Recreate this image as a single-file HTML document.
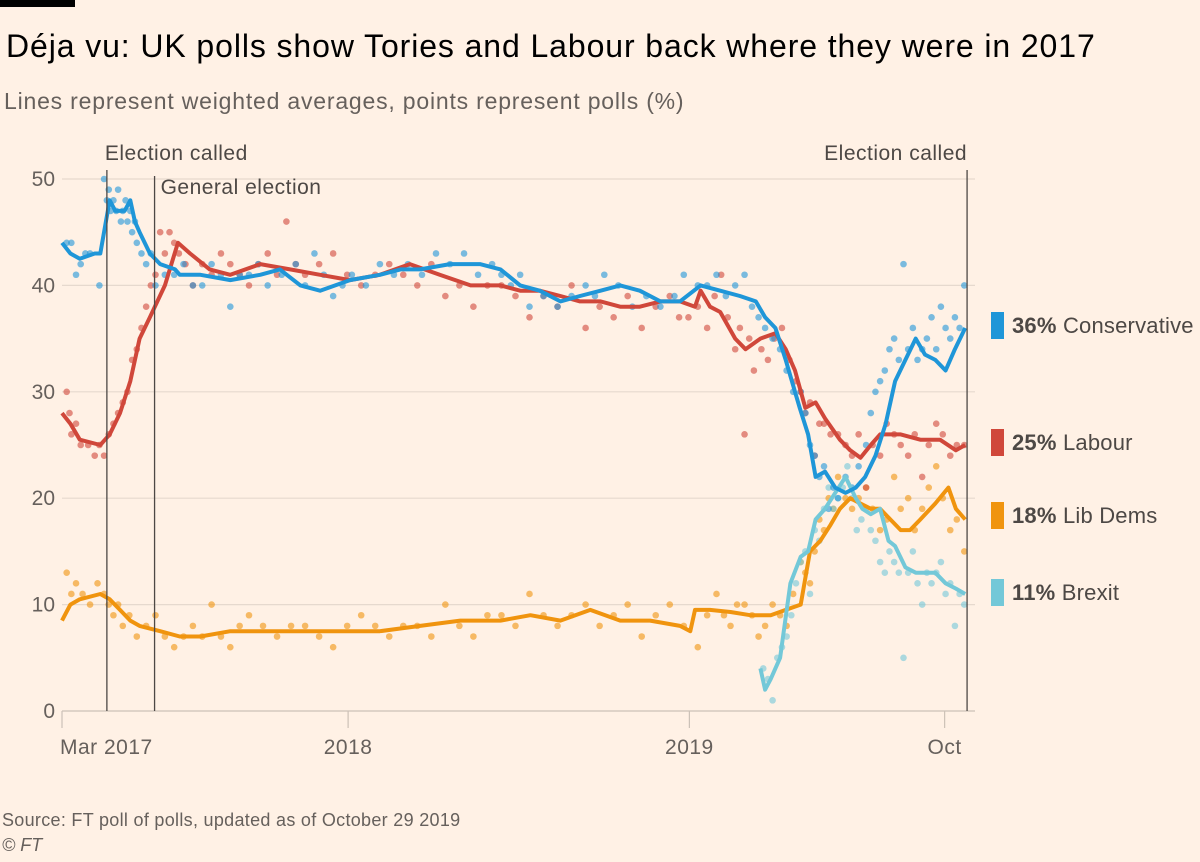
<!DOCTYPE html>
<html><head><meta charset="utf-8"><style>
body{margin:0;background:#fff1e5;}
svg text{font-family:"Liberation Sans",sans-serif;}
</style></head><body>
<svg width="1200" height="857" xmlns="http://www.w3.org/2000/svg">
<rect width="1200" height="857" fill="#fff1e5"/>
<rect x="0" y="0" width="75" height="7" fill="#000"/>
<text x="6" y="57" font-size="32" letter-spacing="0.9" fill="#000">Déja vu: UK polls show Tories and Labour back where they were in 2017</text>
<text x="4" y="109" font-size="23" letter-spacing="0.8" fill="#66605c">Lines represent weighted averages, points represent polls (%)</text>
<g id="grid"></g>
<g id="polls"></g>
<g id="lines"></g>
<g id="annot"></g>
<g id="legend"></g>
<text x="2" y="826" font-size="18" letter-spacing="0.3" fill="#66605c">Source: FT poll of polls, updated as of October 29 2019</text>
<text x="2" y="851" font-size="18" fill="#66605c" font-style="italic">© FT</text>
</svg>
<script>
const yTicks=[0,10,20,30,40,50];
const xTickDays=[0,306,671,944];
const xTickLabels=["Mar 2017","2018","2019","Oct"];
const eventDays=[48,99,968];
const eventLabels=["Election called","General election","Election called"];
const conLine=[[0,44],[9,43],[19,42.5],[35,43],[41,43],[47,46],[51,48],[57,47],[67,47],[73,48],[78,46],[83,45],[94,43],[105,42],[121,41.5],[126,41],[148,41],[180,40.5],[212,41],[233,41.5],[255,40],[276,39.5],[308,40.5],[340,41],[362,41.5],[383,41.5],[415,42],[447,42],[469,41.5],[490,40],[511,39.5],[533,38.5],[554,39],[576,39.5],[597,40],[618,39.5],[640,38.5],[661,38.5],[683,40],[704,39.5],[725,39],[742,38.5],[752,37],[763,36],[774,33],[784,30],[789,28.5],[798,26],[806,22],[816,22.5],[827,21],[838,20.5],[849,21],[859,22],[870,24],[881,27],[891,31],[902,33],[913,35],[923,33.5],[934,33],[945,32],[955,34],[966,36]];
const labLine=[[0,28],[9,27],[19,25.5],[41,25],[46,25.5],[51,26],[62,28],[73,31],[83,35],[94,37],[110,40],[124,44],[137,43],[158,41.5],[180,41],[212,42],[244,41.5],[276,41],[308,40.5],[340,41],[372,42],[404,41],[437,40],[469,40],[490,39.5],[511,39.5],[533,39],[554,38.5],[576,38.5],[597,38],[618,38],[640,38.5],[661,38.5],[677,38],[683,39.5],[693,38],[704,37.5],[720,35],[731,34],[747,35],[763,35.5],[774,34],[784,32],[795,28.5],[806,29],[816,27.5],[832,25.5],[843,24.5],[854,23.8],[865,25],[875,26],[897,26],[918,25.5],[939,25.5],[956,24.5],[966,25]];
const ldLine=[[0,8.5],[9,10],[19,10.5],[41,11],[51,10.5],[62,9.5],[73,8.5],[83,8],[105,7.5],[126,7],[148,7],[180,7.5],[212,7.5],[244,7.5],[276,7.5],[308,7.5],[340,7.5],[383,8],[426,8.5],[469,8.5],[501,9],[533,8.5],[565,9.5],[597,8.5],[629,8.5],[661,8],[672,7.5],[677,9.5],[693,9.5],[715,9.3],[736,9],[758,9],[774,9.5],[790,10],[800,15],[811,16],[822,17.5],[832,19],[843,20],[854,19.5],[865,19],[875,19],[886,18],[897,17],[907,17],[918,18],[934,19.5],[948,21],[956,19],[966,18]];
const brxLine=[[747,4],[752,2],[758,3],[768,5],[779,12],[790,14.5],[798,15],[806,18],[816,19],[827,20.5],[838,22],[849,20],[856,19],[865,18.5],[875,19],[884,16],[891,15.5],[902,13.5],[913,13],[923,13],[934,13],[945,12],[956,11.5],[966,11]];
const conPolls=[[5,44],[10,44],[15,41],[20,42],[25,43],[30,43],[40,40],[45,50],[48,48],[50,49],[52,47],[55,48],[58,47],[60,49],[63,46],[65,47],[68,48],[70,46],[73,47],[75,45],[78,46],[80,44],[85,43],[90,42],[95,43],[100,40],[110,41],[120,41],[130,42],[140,40],[150,40],[160,42],[170,41],[180,38],[190,41],[200,41],[210,42],[220,40],[235,41],[250,42],[260,40],[270,43],[280,41],[290,39],[300,40],[310,41],[325,40],[340,42],[355,41],[370,42],[385,41],[400,43],[415,42],[430,43],[445,41],[460,42],[470,41],[480,40],[490,41],[500,38],[515,39],[530,38],[545,39],[560,40],[570,39],[580,41],[595,40],[610,38],[625,39],[640,38],[655,39],[665,41],[680,40],[690,40],[700,41],[710,39],[720,40],[730,41],[738,38],[745,37],[752,36],[760,35],[768,34],[775,32],[782,30],[790,30],[795,28],[800,25],[805,24],[810,22],[815,23],[820,19],[825,21],[830,20],[838,22],[845,21],[852,23],[860,25],[865,28],[870,30],[875,31],[880,32],[885,34],[890,35],[895,33],[900,42],[905,34],[910,36],[915,33],[920,34],[925,35],[930,37],[935,34],[940,38],[945,36],[950,35],[955,37],[960,36],[965,40]];
const labPolls=[[5,30],[8,28],[10,26],[15,27],[20,25],[28,25],[35,24],[40,25],[45,24],[50,26],[55,27],[60,28],[65,29],[70,30],[75,33],[80,34],[85,36],[90,38],[95,40],[100,41],[105,45],[110,43],[115,45],[120,44],[125,43],[132,42],[140,40],[150,42],[160,41],[170,43],[180,42],[190,41],[200,40],[210,42],[220,43],[230,41],[240,46],[250,42],[260,41],[275,42],[290,43],[305,41],[320,40],[335,41],[350,42],[365,41],[380,40],[395,42],[410,39],[425,40],[440,38],[455,40],[470,40],[485,39],[500,37],[515,39],[530,38],[545,40],[560,36],[575,38],[590,37],[605,39],[620,36],[635,38],[650,39],[660,37],[670,37],[680,38],[690,36],[698,39],[705,41],[712,37],[720,34],[725,36],[730,26],[735,35],[740,32],[748,34],[755,33],[762,35],[770,36],[778,33],[785,31],[790,30],[795,28],[800,29],[805,24],[810,27],[815,27],[822,26],[830,26],[838,25],[845,24],[852,26],[860,21],[867,25],[875,24],[882,27],[890,26],[897,25],[905,24],[912,26],[920,22],[927,25],[935,27],[942,26],[950,24],[957,25],[965,25]];
const ldPolls=[[5,13],[10,11],[15,12],[22,11],[30,10],[38,12],[45,11],[50,10],[55,9],[60,10],[65,8],[72,9],[80,7],[90,8],[100,9],[110,7],[120,6],[130,7],[140,8],[150,7],[160,10],[170,7],[180,6],[190,8],[200,9],[215,8],[230,7],[245,8],[260,8],[275,7],[290,6],[305,8],[320,9],[335,8],[350,7],[365,8],[380,8],[395,7],[410,10],[425,8],[440,7],[455,9],[470,9],[485,8],[500,11],[515,9],[530,8],[545,9],[560,10],[575,8],[590,9],[605,10],[620,7],[635,9],[650,10],[665,8],[680,6],[690,9],[700,11],[708,9],[715,8],[722,10],[730,10],[738,9],[745,7],[752,8],[760,10],[768,9],[775,8],[782,11],[790,14],[795,13],[800,12],[805,15],[810,18],[815,17],[820,20],[825,19],[830,22],[838,20],[845,19],[852,20],[860,21],[867,19],[875,17],[882,18],[890,22],[897,19],[905,20],[912,17],[920,19],[927,21],[935,23],[942,20],[950,17],[957,18],[965,15]];
const brxPolls=[[750,4],[755,3],[760,1],[765,5],[770,6],[775,7],[780,9],[785,12],[790,14],[795,15],[800,11],[805,17],[810,16],[815,19],[820,21],[825,19],[830,20],[835,21],[840,23],[845,20],[850,17],[855,18],[860,19],[865,17],[870,16],[875,14],[880,13],[885,15],[890,14],[895,13],[900,5],[905,13],[910,15],[915,12],[920,10],[925,13],[930,12],[935,13],[940,14],[945,11],[950,12],[955,8],[960,11],[965,10]];
const legendNames=["Conservative","Labour","Lib Dems","Brexit"];
const legendValues=[36,25,18,11];
const legendY=[325,442,515,592];

const NS="http://www.w3.org/2000/svg";
const x=d=>62+d*0.935;
const y=v=>711-v*10.64;
function mk(tag,attrs,parent){const e=document.createElementNS(NS,tag);for(const k in attrs)e.setAttribute(k,attrs[k]);parent.appendChild(e);return e;}
const grid=document.getElementById('grid');
yTicks.forEach(t=>{
  const l=mk('line',{x1:62,x2:975,y1:y(t),y2:y(t),stroke:t===0?'#ccc1b7':'#e6d9ce','stroke-width':1.2},grid);
  
  
  const tx=mk('text',{x:55,y:y(t)+7,'font-size':21,fill:'#66605c','text-anchor':'end'},grid);
  tx.textContent=t;
  
  
});
xTickDays.forEach((d,i)=>{
  const l=mk('line',{x1:x(d),x2:x(d),y1:711,y2:728,stroke:'#ccc1b7','stroke-width':1.2},grid);
  
  
  const tx=mk('text',{x:x(d)+(i===0?-2:0),y:754,'font-size':21,'letter-spacing':0.5,fill:'#66605c','text-anchor':i===0?'start':'middle'},grid);
  tx.textContent=xTickLabels[i];
  
  
});
const cols={con:'#1f96d8',lab:'#d0473a',ld:'#f0940e',brx:'#73c8d8'};
const polls=document.getElementById('polls');
[[ldPolls,cols.ld],[brxPolls,cols.brx],[labPolls,cols.lab],[conPolls,cols.con]].forEach(([arr,c])=>{
  arr.forEach(p=>{
    const e=mk('circle',{cx:x(p[0]),cy:y(p[1]),r:3.3,fill:c,'fill-opacity':0.6},polls);
    
    
  });
});
const lines=document.getElementById('lines');
[[ldLine,cols.ld,'libdem-line'],[brxLine,cols.brx,'brexit-line'],[labLine,cols.lab,'labour-line'],[conLine,cols.con,'conservative-line']].forEach(([arr,c,n])=>{
  const d=arr.map((p,i)=>(i?'L':'M')+x(p[0]).toFixed(1)+','+y(p[1]).toFixed(1)).join('');
  const e=mk('path',{d:d,fill:'none',stroke:c,'stroke-width':4,'stroke-linejoin':'round'},lines);
  
  
});
const annot=document.getElementById('annot');
eventDays.forEach((d,i)=>{
  const l=mk('line',{x1:x(d),x2:x(d),y1:i===1?176:170,y2:711,stroke:'#4d4845','stroke-width':1.3},annot);
  
  
  const tx=mk('text',{x:i===1?x(d)+6:x(d),y:i===1?194:160,'font-size':21,'letter-spacing':0.5,fill:'#4d4845','text-anchor':i===2?'end':'start'},annot);
  if(i===0)tx.setAttribute('x',x(d)-2);
  tx.textContent=eventLabels[i];
  
  
});
const legend=document.getElementById('legend');
const lc=[cols.con,cols.lab,cols.ld,cols.brx];
legendNames.forEach((n,i)=>{
  const r=mk('rect',{x:991,y:legendY[i]-13,width:13,height:27,fill:lc[i]},legend);
  
  
  const t=mk('text',{x:1012,y:legendY[i]+8,'font-size':22,'letter-spacing':0.2,fill:'#4d4845'},legend);
  const b=mk('tspan',{'font-weight':'bold'},t);b.textContent=legendValues[i]+'%';
  const s=mk('tspan',{},t);s.textContent=' '+n;
  
  
});
</script>
</body></html>
